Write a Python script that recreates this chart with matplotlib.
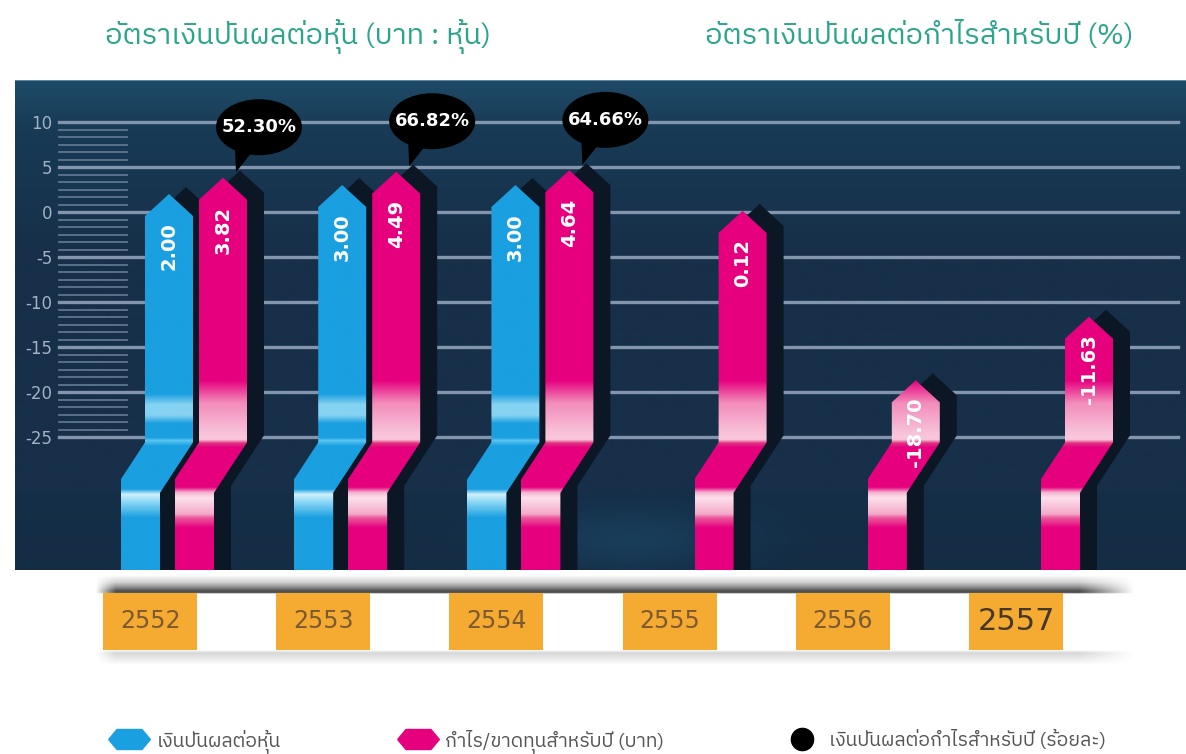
import numpy as np
import matplotlib
matplotlib.use('Agg')
import matplotlib.pyplot as plt
from matplotlib import font_manager
from matplotlib.ft2font import FT2Font
from matplotlib.patches import Polygon, Ellipse, Rectangle
from matplotlib.lines import Line2D
from matplotlib.path import Path
from matplotlib.colors import to_rgb

# data
years = ['2552', '2553', '2554', '2555', '2556', '2557']
dividend_per_share = [2.00, 3.00, 3.00, None, None, None]
profit_per_share = [3.82, 4.49, 4.64, 0.12, -18.70, -11.63]
payout_ratio = [52.30, 66.82, 64.66, None, None, None]
y_ticks = [10, 5, 0, -5, -10, -15, -20, -25]

title_left = 'อัตราเงินปันผลต่อหุ้น (บาท : หุ้น)'
title_right = 'อัตราเงินปันผลต่อกำไรสำหรับปี (%)'
legend_labels = ['เงินปันผลต่อหุ้น', 'กำไร/ขาดทุนสำหรับปี (บาท)',
                 'เงินปันผลต่อกำไรสำหรับปี (ร้อยละ)']

# find a font that has thai glyphs
thai_fonts = []
for f in font_manager.fontManager.ttflist:
    try:
        if 0x0E01 in FT2Font(f.fname).get_charmap():
            thai_fonts.append(f.name)
    except Exception:
        pass
thai_fonts = sorted(set(thai_fonts), key=lambda n: ('Thai' not in n, n))
THAI = thai_fonts[:1] + ['DejaVu Sans']

W, H = 1186, 754
fig = plt.figure(figsize=(W / 100, H / 100), dpi=100)
fig.patch.set_facecolor('white')


def fx(px):
    return px / W


def fy(py):
    return 1 - py / H


# panel geometry (px -> data)
UX = 1 / 173.2
UY = 1 / 9
XMIN, XMAX = (15 - 150) * UX, (1186 - 150) * UX
YMIN, YMAX = -(570 - 212) * UY, (212 - 80) * UY

ax = fig.add_axes([fx(15), fy(570), fx(1186) - fx(15), fy(80) - fy(570)])
ax.set_xlim(XMIN, XMAX)
ax.set_ylim(YMIN, YMAX)
for s in ax.spines.values():
    s.set_visible(False)
ax.set_xticks([])
ax.set_yticks(y_ticks)
ax.set_yticklabels([str(t) for t in y_ticks])
ax.tick_params(axis='y', length=0, pad=-27, labelsize=12, labelcolor='#a2b2c4')
for lab in ax.get_yticklabels():
    lab.set_horizontalalignment('right')


def vgrad(stops, cols, n=600):
    ys = np.linspace(YMIN, YMAX, n)
    rgb = np.array([to_rgb(c) for c in cols])
    img = np.stack([np.interp(ys, stops, rgb[:, k]) for k in range(3)], axis=-1)
    return img[:, None, :]


# background
bg = vgrad([YMIN, -31.4, -31.2, -5, 9, YMAX],
           ['#142c44', '#152f48', '#172f48', '#172f48', '#183a55', '#1e4b68'])
ax.imshow(bg, extent=[XMIN, XMAX, YMIN, YMAX], origin='lower', aspect='auto', zorder=0)
# soft glow in the lower band
gx = np.linspace(XMIN, XMAX, 400) / UX + 150
gy = np.linspace(YMIN, -31.2, 60)
glow = np.zeros((60, 400, 4))
glow[..., :3] = to_rgb('#1f5274')
glow[..., 3] = (0.45 * np.exp(-((gx[None, :] - 630) / 110) ** 2)
                * np.exp(-((gy[:, None] + 36.5) / 3.5) ** 2))
ax.imshow(glow, extent=[XMIN, XMAX, YMIN, -31.2], origin='lower', aspect='auto', zorder=0.5)
ax.axhline(YMAX, color='#6f93ab', lw=1.2, zorder=1)

# grid lines
for t in y_ticks:
    ax.axhline(t, xmin=0.038, xmax=0.993, color='#8394ad', lw=2.4, zorder=1)
minor = []
for t in y_ticks[:-1]:
    for k in range(1, 6):
        minor.append(t - k * 5 / 6)
for t in minor:
    ax.axhline(t, xmin=0.038, xmax=0.096, color='#5f7590', lw=1.3, zorder=1)

# bars
BW = 48 * UX
ROOF = 22 * UY
SHIFT = -33 * UX
BEND_TOP, BEND_BOT, BOTTOM = -25.6, -31.2, -45
BLUE_OFF, PINK_OFF = 19 * UX, 73 * UX


def outline(cx, top, dx=0.0, dy=0.0):
    l, r = cx - BW / 2, cx + BW / 2
    pts = [(cx, top), (r, top - ROOF), (r, BEND_TOP), (r + SHIFT, BEND_BOT),
           (r + SHIFT, BOTTOM), (l + SHIFT, BOTTOM), (l + SHIFT, BEND_BOT),
           (l, BEND_TOP), (l, top - ROOF)]
    return [(x + dx, y + dy) for x, y in pts]


pk, bl = '#e6007e', '#1a9fe0'
pink_grad = vgrad(
    [YMIN, -35.1, -34.0, -33.6, -31.8, -31.2, -30.6, -26.2, -25.7, -25.3, -24.4, -21.2, -18.7, YMAX],
    [pk, pk, '#ec5a9e', '#f4a8c8', '#fde0ec', '#f6b6d2', pk, pk, '#e0307e', '#f9c8dc',
     '#f8c0d8', '#f28cba', pk, pk])
blue_grad = vgrad(
    [YMIN, -34.0, -32.2, -31.4, -30.8, -26.0, -25.4, -25.1, -23.5, -22.6, -21.4, -20.2, YMAX],
    [bl, bl, '#8fd8f6', '#d0f1fc', bl, bl, '#5cc6f2', bl, bl, '#86d2f2', '#86d2f2', bl, bl])


def draw_bar(cx, value, grad, z):
    sh = Polygon(outline(cx, value, 17 * UX, 7 * UY), closed=True,
                 facecolor='#0b1724', edgecolor='none', zorder=z)
    ax.add_patch(sh)
    poly = Polygon(outline(cx, value), closed=True, facecolor='none',
                   edgecolor='none', zorder=z + 0.5)
    ax.add_patch(poly)
    im = ax.imshow(grad, extent=[cx - BW, cx + BW, YMIN, YMAX], origin='lower',
                   aspect='auto', zorder=z + 0.5)
    im.set_clip_path(poly)
    ax.text(cx, value - 5.8, f'{value:.2f}', rotation=90, ha='center', va='center',
            color='white', fontsize=14, fontweight='bold', zorder=z + 1)


for i in range(len(years)):
    if dividend_per_share[i] is not None:
        draw_bar(i + BLUE_OFF, dividend_per_share[i], blue_grad, 3)
    draw_bar(i + PINK_OFF, profit_per_share[i], pink_grad, 5)

# speech bubbles
for i, pct in enumerate(payout_ratio):
    if pct is None:
        continue
    bx = i + PINK_OFF + 36 * UX
    by = profit_per_share[i] + 5.6
    ax.add_patch(Ellipse((bx, by), 86 * UX, 56 * UY, facecolor='black', zorder=8))
    ax.add_patch(Polygon([(bx - 24 * UX, by - 2.3), (bx - 8 * UX, by - 2.9),
                          (bx - 23 * UX, by - 5.0)], closed=True,
                         facecolor='black', zorder=8))
    ax.text(bx, by, f'{pct:.2f}%', ha='center', va='center', color='white',
            fontsize=13, fontweight='bold', zorder=9)

# year strip
ax2 = fig.add_axes([fx(15), fy(670), fx(1186) - fx(15), fy(570) - fy(670)])
ax2.set_xlim(XMIN, XMAX)
ax2.set_ylim(0, 1)
ax2.axis('off')

xs = np.linspace(XMIN, XMAX, 600)
xpx = xs / UX + 150
hprof = np.clip((xpx - 95) / 20, 0, 1) * np.clip((1135 - xpx) / 55, 0, 1)
ys = np.linspace(0, 1, 300)
vprof = np.interp(ys, [0, 0.05, 0.17, 0.2, 0.765, 0.772, 0.79, 0.83, 0.88, 0.95, 1],
                  [0, 0, 0.18, 0, 0, 0.75, 0.8, 0.5, 0.2, 0, 0])
shade = np.zeros((300, 600, 4))
shade[..., :3] = 0.12
shade[..., 3] = vprof[:, None] * hprof[None, :]
ax2.imshow(shade, extent=[XMIN, XMAX, 0, 1], origin='lower', aspect='auto', zorder=1)

BOXW = 94 * UX
for i, yr in enumerate(years):
    ax2.add_patch(Rectangle((i - BOXW / 2, 0.2), BOXW, 0.57, facecolor='#f5aa32',
                            edgecolor='none', zorder=2))
    last = i == len(years) - 1
    ax2.text(i, 0.49, yr, ha='center', va='center', zorder=3,
             fontsize=22 if last else 17,
             color='#45382a' if last else '#7a5a30')

# titles
fig.text(fx(105), fy(36), title_left, color='#2ba58b', fontsize=21, family=THAI,
         va='center')
fig.text(fx(705), fy(36), title_right, color='#2ba58b', fontsize=21, family=THAI,
         va='center')

# legend
hexagon = Path([(-1, 0), (-0.6, 0.48), (0.6, 0.48), (1, 0), (0.6, -0.48),
                (-0.6, -0.48), (-1, 0)])
handles = [
    Line2D([], [], marker=hexagon, ms=30, color=bl, ls='none'),
    Line2D([], [], marker=hexagon, ms=30, color=pk, ls='none'),
    Line2D([], [], marker='o', ms=16, color='black', ls='none'),
]
fig.legend(handles, legend_labels, loc='center left',
           bbox_to_anchor=(fx(90.5), fy(741)), ncol=3, frameon=False,
           prop={'family': THAI, 'size': 14}, labelcolor='#555555',
           handlelength=2.2, handletextpad=0.3, columnspacing=5.96)

fig.savefig('out.png', dpi=100)
